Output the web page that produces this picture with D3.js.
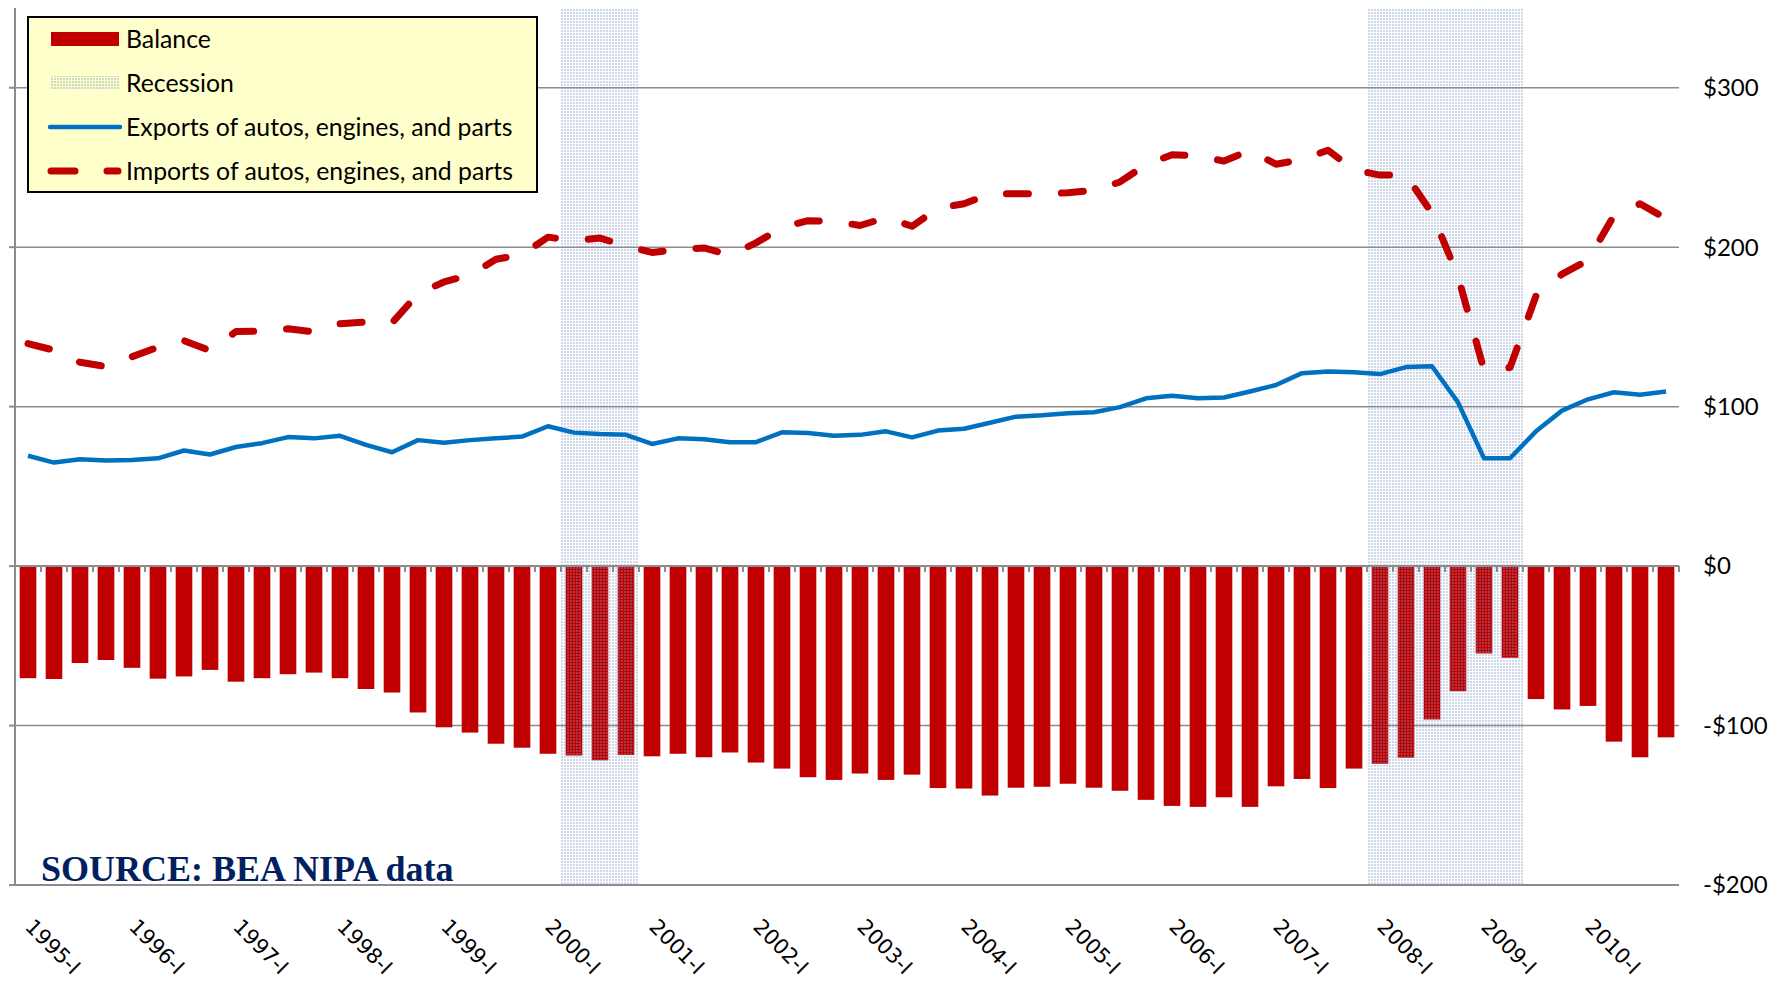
<!DOCTYPE html>
<html>
<head>
<meta charset="utf-8">
<script src="https://cdn.jsdelivr.net/npm/d3@7"></script>
<style>
    body { margin: 0; background: #fff; }
    svg { display: block; }
</style>
</head>
<body>
<div id="chart"></div>
<script>
// quarters 1995-I .. 2010-IV
let years = d3.range(1995, 2011);
let quarterNames = ["I", "II", "III", "IV"];

// $ billions
let balance = [-70.3,-70.8,-60.8,-58.9,-63.8,-70.6,-69.2,-65.1,-72.5,-70.3,
    -67.8,-66.8,-70.3,-77.1,-79.3,-91.8,-101.1,-104.4,-111.4,-113.9,
    -117.7,-118.8,-121.8,-118.5,-119.3,-117.7,-119.9,-116.9,-123.2,-127.0,
    -132.4,-134.1,-130.1,-134.1,-130.8,-139.2,-139.5,-143.9,-139.0,-138.4,
    -136.5,-139.0,-140.9,-146.6,-150.4,-151.0,-145.0,-151.0,-138.1,-133.5,
    -139.2,-127.0,-124.0,-120.2,-96.2,-78.5,-54.8,-57.5,-83.4,-89.9,
    -87.7,-110.1,-119.9,-107.4];

let exportsAuto = [69.2,64.9,67.0,66.2,66.5,67.6,72.5,70.0,74.7,77.1,
    80.9,80.1,81.7,76.0,71.4,79.0,77.4,79.0,80.1,81.2,
    87.7,83.7,82.8,82.3,76.6,80.1,79.6,77.7,77.7,83.9,
    83.4,81.7,82.3,84.5,80.7,85.0,86.1,89.9,93.7,94.6,
    95.9,96.5,99.7,105.2,106.8,105.2,105.7,109.5,113.6,121.0,
    122.1,121.5,120.4,124.8,125.3,102.7,67.6,67.6,84.5,97.5,
    104.6,109.0,107.4,109.5];

let importsAuto = [139.5,135.4,127.8,125.1,131.3,137.3,141.4,135.1,147.1,147.4,
    148.8,146.9,152.0,153.1,152.5,170.8,178.2,182.6,192.4,195.4,
    206.3,204.1,205.7,200.8,196.7,198.6,199.5,195.1,202.7,212.3,
    216.6,216.3,213.6,218.5,213.1,224.5,227.2,233.5,233.5,233.5,
    234.1,235.7,240.9,251.8,258.0,257.2,254.0,260.8,252.0,255.0,
    260.8,248.5,245.2,245.2,221.3,181.7,123.0,124.5,169.5,183.1,
    191.8,219.9,227.2,218.0];

// recession shading, first and last quarter covered
let recessions = [["2000-II", "2000-IV"], ["2008-I", "2009-II"]];

let yTicks = [-200, -100, 0, 100, 200, 300];

let legendItems = ["Balance", "Recession", "Exports of autos, engines, and parts", "Imports of autos, engines, and parts"];

let quarters = [];
years.forEach(y => quarterNames.forEach(q => quarters.push(y + "-" + q)));

let width = 1784, height = 984;
let margin = {top: 8, right: 105, bottom: 99, left: 15};

let svg = d3.select("#chart").append("svg")
    .attr("width", width)
    .attr("height", height);

let xScale = d3.scaleBand()
    .domain(quarters)
    .range([margin.left, width - margin.right])
    .paddingInner(0.36)
    .paddingOuter(0.18);
let step = xScale.step();

let yScale = d3.scaleLinear()
    .domain([-200, 350])
    .range([height - margin.bottom, margin.top]);

let x0 = margin.left, x1 = width - margin.right;
let grey = "#8c8c8c";

// dotted fill used for recessions
let defs = svg.append("defs");
let pat = defs.append("pattern")
    .attr("id", "recess")
    .attr("width", 3).attr("height", 3)
    .attr("patternUnits", "userSpaceOnUse");
pat.append("rect").attr("width", 2).attr("height", 2)
    .attr("fill", "#7c95c2").attr("fill-opacity", 0.38);

// gridlines
svg.append("g").selectAll("line")
    .data(yTicks.filter(d => d != 0 && d != -200))
    .join("line")
    .attr("x1", x0).attr("x2", x1)
    .attr("y1", d => yScale(d)).attr("y2", d => yScale(d))
    .attr("stroke", grey).attr("stroke-width", 1.5);

// left value axis (no labels)
let leftAxis = svg.append("g");
leftAxis.append("line")
    .attr("x1", x0).attr("x2", x0)
    .attr("y1", yScale(350)).attr("y2", yScale(-200))
    .attr("stroke", grey).attr("stroke-width", 2);
leftAxis.selectAll("line.tick")
    .data(yTicks)
    .join("line").attr("class", "tick")
    .attr("x1", x0 - 6).attr("x2", x0)
    .attr("y1", d => yScale(d)).attr("y2", d => yScale(d))
    .attr("stroke", grey).attr("stroke-width", 2);

// bottom line
svg.append("line")
    .attr("x1", x0).attr("x2", x1)
    .attr("y1", yScale(-200)).attr("y2", yScale(-200))
    .attr("stroke", grey).attr("stroke-width", 2);

// balance bars
svg.append("g").selectAll("rect")
    .data(balance)
    .join("rect")
    .attr("x", (d, i) => xScale(quarters[i]))
    .attr("y", d => yScale(Math.max(0, d)))
    .attr("width", xScale.bandwidth())
    .attr("height", d => Math.abs(yScale(d) - yScale(0)))
    .attr("fill", "#C00000");

// recession bands sit over the bars
svg.append("g").selectAll("rect")
    .data(recessions)
    .join("rect")
    .attr("x", d => xScale(d[0]) - step * 0.18)
    .attr("y", yScale(350))
    .attr("width", d => xScale(d[1]) - xScale(d[0]) + step)
    .attr("height", yScale(-200) - yScale(350))
    .attr("fill", "url(#recess)");

// category axis at zero, ticks between quarters
let zeroAxis = svg.append("g");
zeroAxis.append("line")
    .attr("x1", x0).attr("x2", x1)
    .attr("y1", yScale(0)).attr("y2", yScale(0))
    .attr("stroke", grey).attr("stroke-width", 2);
zeroAxis.selectAll("line.tick")
    .data(d3.range(quarters.length + 1))
    .join("line").attr("class", "tick")
    .attr("x1", i => x0 + i * step).attr("x2", i => x0 + i * step)
    .attr("y1", yScale(0)).attr("y2", yScale(0) + 6)
    .attr("stroke", grey).attr("stroke-width", 2);

let cx = (d, i) => xScale(quarters[i]) + xScale.bandwidth() / 2;

// imports, dashed
svg.append("path")
    .datum(importsAuto)
    .attr("d", d3.line().x(cx).y(d => yScale(d)))
    .attr("fill", "none")
    .attr("stroke", "#C00000")
    .attr("stroke-width", 7)
    .attr("stroke-linecap", "round")
    .attr("stroke-linejoin", "round")
    .attr("stroke-dasharray", "22,33");

// exports
svg.append("path")
    .datum(exportsAuto)
    .attr("d", d3.line().x(cx).y(d => yScale(d)))
    .attr("fill", "none")
    .attr("stroke", "#0070C0")
    .attr("stroke-width", 4.5)
    .attr("stroke-linejoin", "round");

// right labels
svg.append("g").selectAll("text")
    .data(yTicks)
    .join("text")
    .attr("x", x1 + 24)
    .attr("y", d => yScale(d))
    .attr("dy", "0.35em")
    .attr("font-family", "Lato, 'Open Sans', sans-serif")
    .attr("font-size", 24)
    .attr("fill", "#000")
    .text(d => (d < 0 ? "-$" : "$") + Math.abs(d));

// quarter labels, first quarter only
svg.append("g").selectAll("text")
    .data(quarters.filter(q => q.endsWith("-I")))
    .join("text")
    .attr("transform", d => "translate(" + (xScale(d) + xScale.bandwidth() / 2 - 4) + "," + 928 + ") rotate(45)")
    .attr("font-family", "'DejaVu Sans', sans-serif")
    .attr("font-size", 21)
    .attr("fill", "#000")
    .text(d => d);

// source note
svg.append("text")
    .attr("x", 41)
    .attr("y", 881)
    .attr("font-family", "'Liberation Serif', serif")
    .attr("font-weight", "bold")
    .attr("font-size", 36)
    .attr("fill", "#002060")
    .text("SOURCE: BEA NIPA data");

// legend
let legend = svg.append("g");
legend.append("rect")
    .attr("x", 28).attr("y", 17)
    .attr("width", 509).attr("height", 175)
    .attr("fill", "#FFFFCC")
    .attr("stroke", "#000").attr("stroke-width", 2);

let rowY = d3.scalePoint().domain(legendItems).range([39, 171]);

legend.append("rect")
    .attr("x", 51).attr("y", rowY(legendItems[0]) - 7)
    .attr("width", 68).attr("height", 14)
    .attr("fill", "#C00000");
legend.append("rect")
    .attr("x", 51).attr("y", rowY(legendItems[1]) - 7)
    .attr("width", 68).attr("height", 14)
    .attr("fill", "url(#recess)");
legend.append("line")
    .attr("x1", 50).attr("x2", 120)
    .attr("y1", rowY(legendItems[2])).attr("y2", rowY(legendItems[2]))
    .attr("stroke", "#0070C0").attr("stroke-width", 4.5)
    .attr("stroke-linecap", "round");
legend.append("line")
    .attr("x1", 51).attr("x2", 118)
    .attr("y1", rowY(legendItems[3])).attr("y2", rowY(legendItems[3]))
    .attr("stroke", "#C00000").attr("stroke-width", 7)
    .attr("stroke-linecap", "round")
    .attr("stroke-dasharray", "24,32");

legend.selectAll("text")
    .data(legendItems)
    .join("text")
    .attr("x", 126)
    .attr("y", d => rowY(d))
    .attr("dy", "0.35em")
    .attr("font-family", "Lato, 'Open Sans', sans-serif")
    .attr("font-size", 24.8)
    .attr("fill", "#000")
    .text(d => d);
</script>
</body>
</html>
